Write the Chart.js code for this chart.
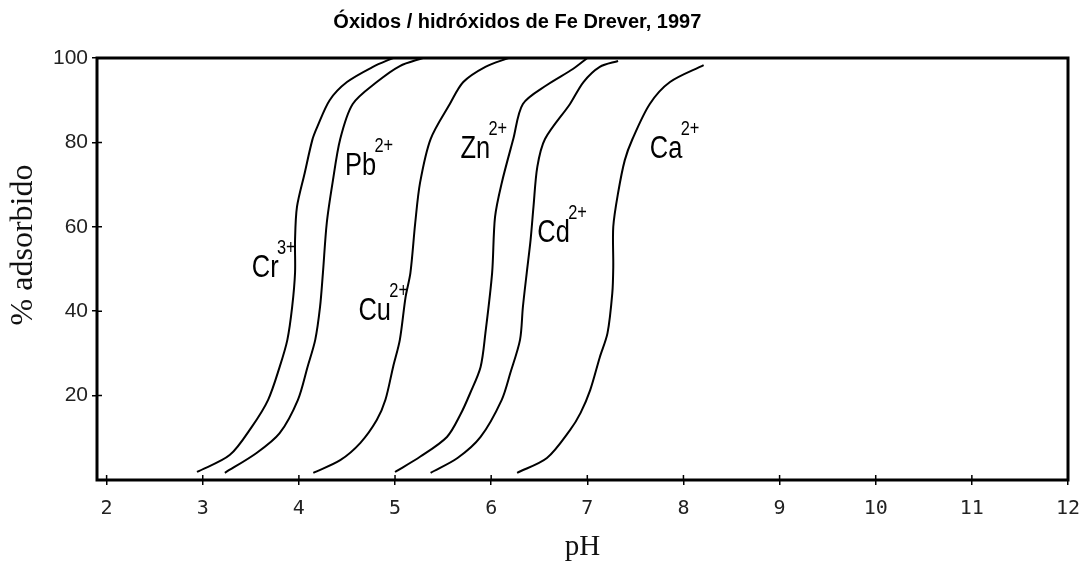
<!DOCTYPE html>
<html>
<head>
<meta charset="utf-8">
<script src="https://cdn.jsdelivr.net/npm/chart.js@4.4.1/dist/chart.umd.min.js"></script>
<style>
  html, body { margin: 0; padding: 0; background: #fff; }
  #wrap { width: 1082px; height: 562px; }
</style>
</head>
<body>
<div id="wrap"><canvas id="chart"></canvas></div>
<script>
// tick values
const xTicks = [2, 3, 4, 5, 6, 7, 8, 9, 10, 11, 12];
const yTicks = [20, 40, 60, 80, 100];

// curves: pH vs % adsorbed
const crPH  = [2.94, 3.28, 3.51, 3.68, 3.80, 3.88, 3.93, 3.96, 3.96, 3.98, 4.06, 4.14, 4.19, 4.32, 4.50, 4.77, 4.98];
const crAds = [1.9, 5.9, 12.6, 19.0, 26.8, 33.2, 41.0, 49.1, 56.9, 64.7, 72.7, 80.6, 83.6, 90.0, 94.3, 97.9, 100];

const pbPH  = [3.23, 3.56, 3.80, 3.99, 4.09, 4.17, 4.22, 4.25, 4.29, 4.35, 4.43, 4.56, 4.81, 5.05, 5.29];
const pbAds = [1.7, 6.4, 11.1, 19.0, 26.8, 33.2, 41.0, 49.1, 60.9, 70.4, 80.8, 89.1, 94.3, 98.1, 100];

const cuPH  = [4.15, 4.43, 4.64, 4.81, 4.90, 4.98, 5.05, 5.11, 5.16, 5.21, 5.26, 5.37, 5.57, 5.71, 5.94, 6.18];
const cuAds = [1.7, 4.7, 8.8, 14.2, 19.0, 26.8, 33.2, 43.4, 49.1, 60.9, 70.4, 80.8, 89.1, 94.3, 97.9, 100];

const znPH  = [5.00, 5.26, 5.54, 5.68, 5.78, 5.89, 5.94, 6.01, 6.04, 6.11, 6.23, 6.33, 6.58, 6.85, 7.00];
const znAds = [1.9, 5.5, 10.2, 15.5, 20.5, 26.8, 34.8, 49.1, 62.3, 70.4, 80.8, 89.1, 93.6, 97.4, 100];

const cdPH  = [5.37, 5.65, 5.89, 6.11, 6.20, 6.30, 6.33, 6.37, 6.41, 6.44, 6.48, 6.56, 6.82, 6.96, 7.13, 7.32];
const cdAds = [1.7, 5.2, 10.2, 19.0, 25.4, 33.2, 41.0, 49.1, 56.9, 64.7, 74.2, 80.8, 89.1, 94.3, 97.9, 99.3];

const caPH  = [6.27, 6.58, 6.82, 6.93, 7.03, 7.13, 7.21, 7.26, 7.27, 7.27, 7.32, 7.39, 7.47, 7.65, 7.86, 8.21];
const caAds = [1.7, 5.2, 11.8, 15.9, 21.3, 29.1, 34.8, 44.3, 50.5, 60.0, 68.0, 75.8, 80.8, 89.1, 94.3, 98.3];

const ionNames   = ['Cr', 'Pb', 'Cu', 'Zn', 'Cd', 'Ca'];
const ionCharges = ['3+', '2+', '2+', '2+', '2+', '2+'];
const curvesPH   = [crPH, pbPH, cuPH, znPH, cdPH, caPH];
const curvesAds  = [crAds, pbAds, cuAds, znAds, cdAds, caAds];

// where each ion name sits (pH, %) next to its curve
const labelPH  = [3.51, 4.48, 4.62, 5.68, 6.48, 7.65];
const labelAds = [48.1, 72.3, 37.9, 76.3, 56.4, 76.3];

const datasets = ionNames.map((name, i) => ({
  label: name + ionCharges[i],
  data: curvesPH[i].map((ph, j) => ({ x: ph, y: curvesAds[i][j] })),
  borderColor: '#000',
  borderWidth: 2,
  pointRadius: 0,
  tension: 0.3,
  fill: false
}));

// box round the plot, plus the small tick marks that poke inside it
const frame = {
  id: 'frame',
  afterDraw(chart) {
    const { ctx, chartArea: a, scales: { x, y } } = chart;
    ctx.save();
    ctx.strokeStyle = '#000';
    ctx.lineWidth = 1.5;
    ctx.beginPath();
    xTicks.forEach(v => {
      const px = x.getPixelForValue(v);
      ctx.moveTo(px, a.bottom);
      ctx.lineTo(px, a.bottom - 5);
    });
    yTicks.forEach(v => {
      const py = y.getPixelForValue(v);
      ctx.moveTo(a.left, py);
      ctx.lineTo(a.left + 5, py);
    });
    ctx.stroke();
    ctx.lineWidth = 3;
    ctx.strokeRect(a.left, a.top, a.right - a.left, a.bottom - a.top);
    ctx.restore();
  }
};

const ionText = {
  id: 'ionText',
  afterDatasetsDraw(chart) {
    const { ctx, scales: { x, y } } = chart;
    ctx.save();
    ctx.fillStyle = '#000';
    ctx.textBaseline = 'alphabetic';
    ctx.textAlign = 'left';
    ionNames.forEach((name, i) => {
      const px = x.getPixelForValue(labelPH[i]);
      const py = y.getPixelForValue(labelAds[i]);
      ctx.save();
      ctx.translate(px, py);
      ctx.scale(0.82, 1);
      ctx.font = '31px "Liberation Sans", Arial, sans-serif';
      ctx.fillText(name, 0, 0);
      const w = ctx.measureText(name).width;
      ctx.font = '20px "Liberation Sans", Arial, sans-serif';
      ctx.fillText(ionCharges[i], w - 2, -23);
      ctx.restore();
    });
    ctx.restore();
  }
};

new Chart(document.getElementById('chart'), {
  type: 'line',
  data: { datasets },
  options: {
    responsive: true,
    maintainAspectRatio: false,
    animation: false,
    layout: { padding: { left: 0, right: 14, top: 0, bottom: 0 } },
    plugins: {
      legend: { display: false },
      tooltip: { enabled: false },
      title: {
        display: true,
        // trailing spaces pull the centred title a little to the left, as in the figure
        text: 'Óxidos / hidróxidos de Fe Drever, 1997\u00a0\u00a0\u00a0\u00a0\u00a0\u00a0',
        color: '#000',
        font: { family: '"Liberation Sans", Arial, sans-serif', size: 20, weight: 'bold', lineHeight: 1.2 },
        padding: { top: 10, bottom: 24 }
      }
    },
    scales: {
      x: {
        type: 'linear',
        min: 1.9,
        max: 12,
        afterBuildTicks: (scale) => { scale.ticks = xTicks.map(v => ({ value: v })); },
        afterFit: (scale) => { scale.height = 82; scale.paddingLeft = 0; scale.paddingRight = 0; },
        border: { display: false },
        grid: { drawOnChartArea: false, drawTicks: true, tickLength: 5, color: '#000', lineWidth: 1.5 },
        ticks: {
          color: '#222',
          autoSkip: false,
          maxRotation: 0,
          padding: 12,
          font: { family: '"DejaVu Sans Mono", monospace', size: 20 }
        },
        title: {
          display: true,
          text: 'pH',
          color: '#111',
          font: { family: '"Liberation Serif", "Times New Roman", serif', size: 29, lineHeight: 1 },
          padding: { top: 0, bottom: 0 }
        }
      },
      y: {
        type: 'linear',
        min: 0,
        max: 100,
        afterBuildTicks: (scale) => { scale.ticks = yTicks.map(v => ({ value: v })); },
        afterFit: (scale) => { scale.width = 97; },
        border: { display: false },
        grid: { drawOnChartArea: false, drawTicks: true, tickLength: 5, color: '#000', lineWidth: 1.5 },
        ticks: {
          color: '#222',
          padding: 4,
          font: { family: '"Liberation Sans", Arial, sans-serif', size: 21 }
        },
        title: {
          display: true,
          text: '\u00a0\u00a0\u00a0\u00a0\u00a0\u00a0% adsorbido',
          color: '#111',
          font: { family: '"Liberation Serif", "Times New Roman", serif', size: 32, lineHeight: 1 },
          padding: { top: 8, bottom: 0 }
        }
      }
    }
  },
  plugins: [frame, ionText]
});
</script>
</body>
</html>
